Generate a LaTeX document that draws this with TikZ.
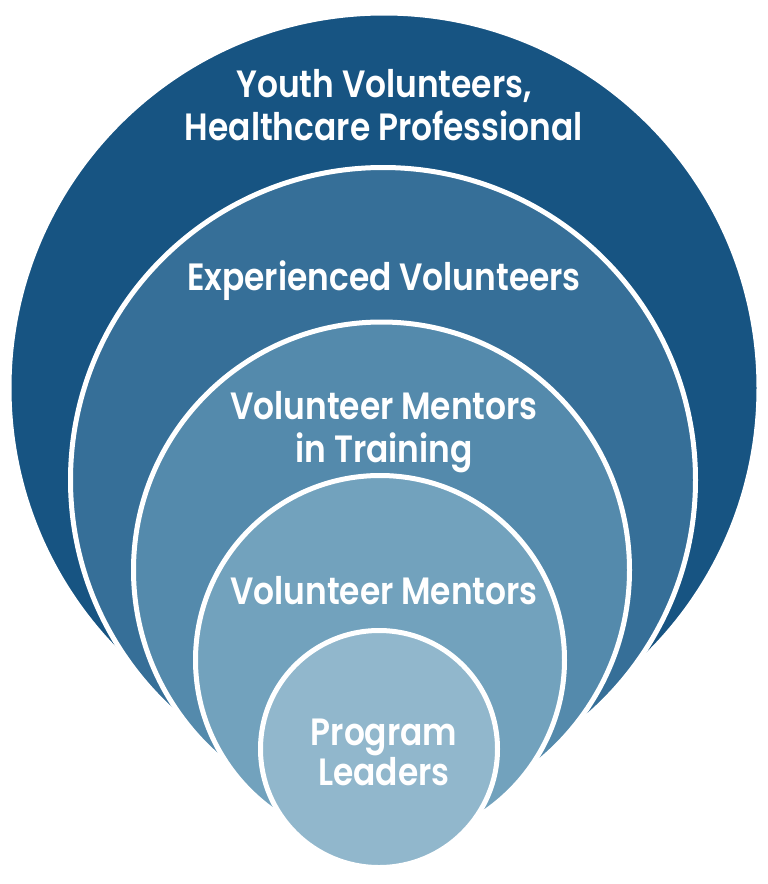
\documentclass[tikz,border=0pt]{standalone}
\usepackage{fontspec}
\newfontfamily\labfont{Poppins}[UprightFont=* SemiBold, FakeStretch=0.865]
\definecolor{ringA}{HTML}{175482}
\definecolor{ringB}{HTML}{366F98}
\definecolor{ringC}{HTML}{548AAC}
\definecolor{ringD}{HTML}{72A2BD}
\definecolor{ringE}{HTML}{91B7CC}
\tikzset{
  ring/.style={circle, draw=white, line width=5pt, inner sep=0pt, minimum size=#1},
  lab/.style={text=white, font=\labfont\fontsize{38}{43}\selectfont, align=center, inner sep=0pt},
}
\begin{document}
\begin{tikzpicture}[x=1pt,y=-1pt]
\useasboundingbox (0,0) rectangle (768,884);
\node[ring=750pt, fill=ringA] (c1) at (384,388) {};
\node[ring=625pt, fill=ringB] (c2) at (383,480) {};
\node[ring=496pt, fill=ringC] (c3) at (381.5,570) {};
\node[ring=369pt, fill=ringD] (c4) at (380,660) {};
\node[ring=237pt, fill=ringE] (c5) at (379,749) {};
\node[lab] (t1) at (384,105) {Youth Volunteers,\\Healthcare Professional};
\node[lab, anchor=base] (t2) at (384,290) {Experienced Volunteers};
\node[lab] (t3) at (384,432) {Volunteer Mentors\\in Training};
\node[lab, anchor=base] (t4) at (384,604) {Volunteer Mentors};
\node[lab, font=\labfont\fontsize{38}{40}\selectfont] (t5) at (384,752) {Program\\Leaders};
\end{tikzpicture}
\end{document}
